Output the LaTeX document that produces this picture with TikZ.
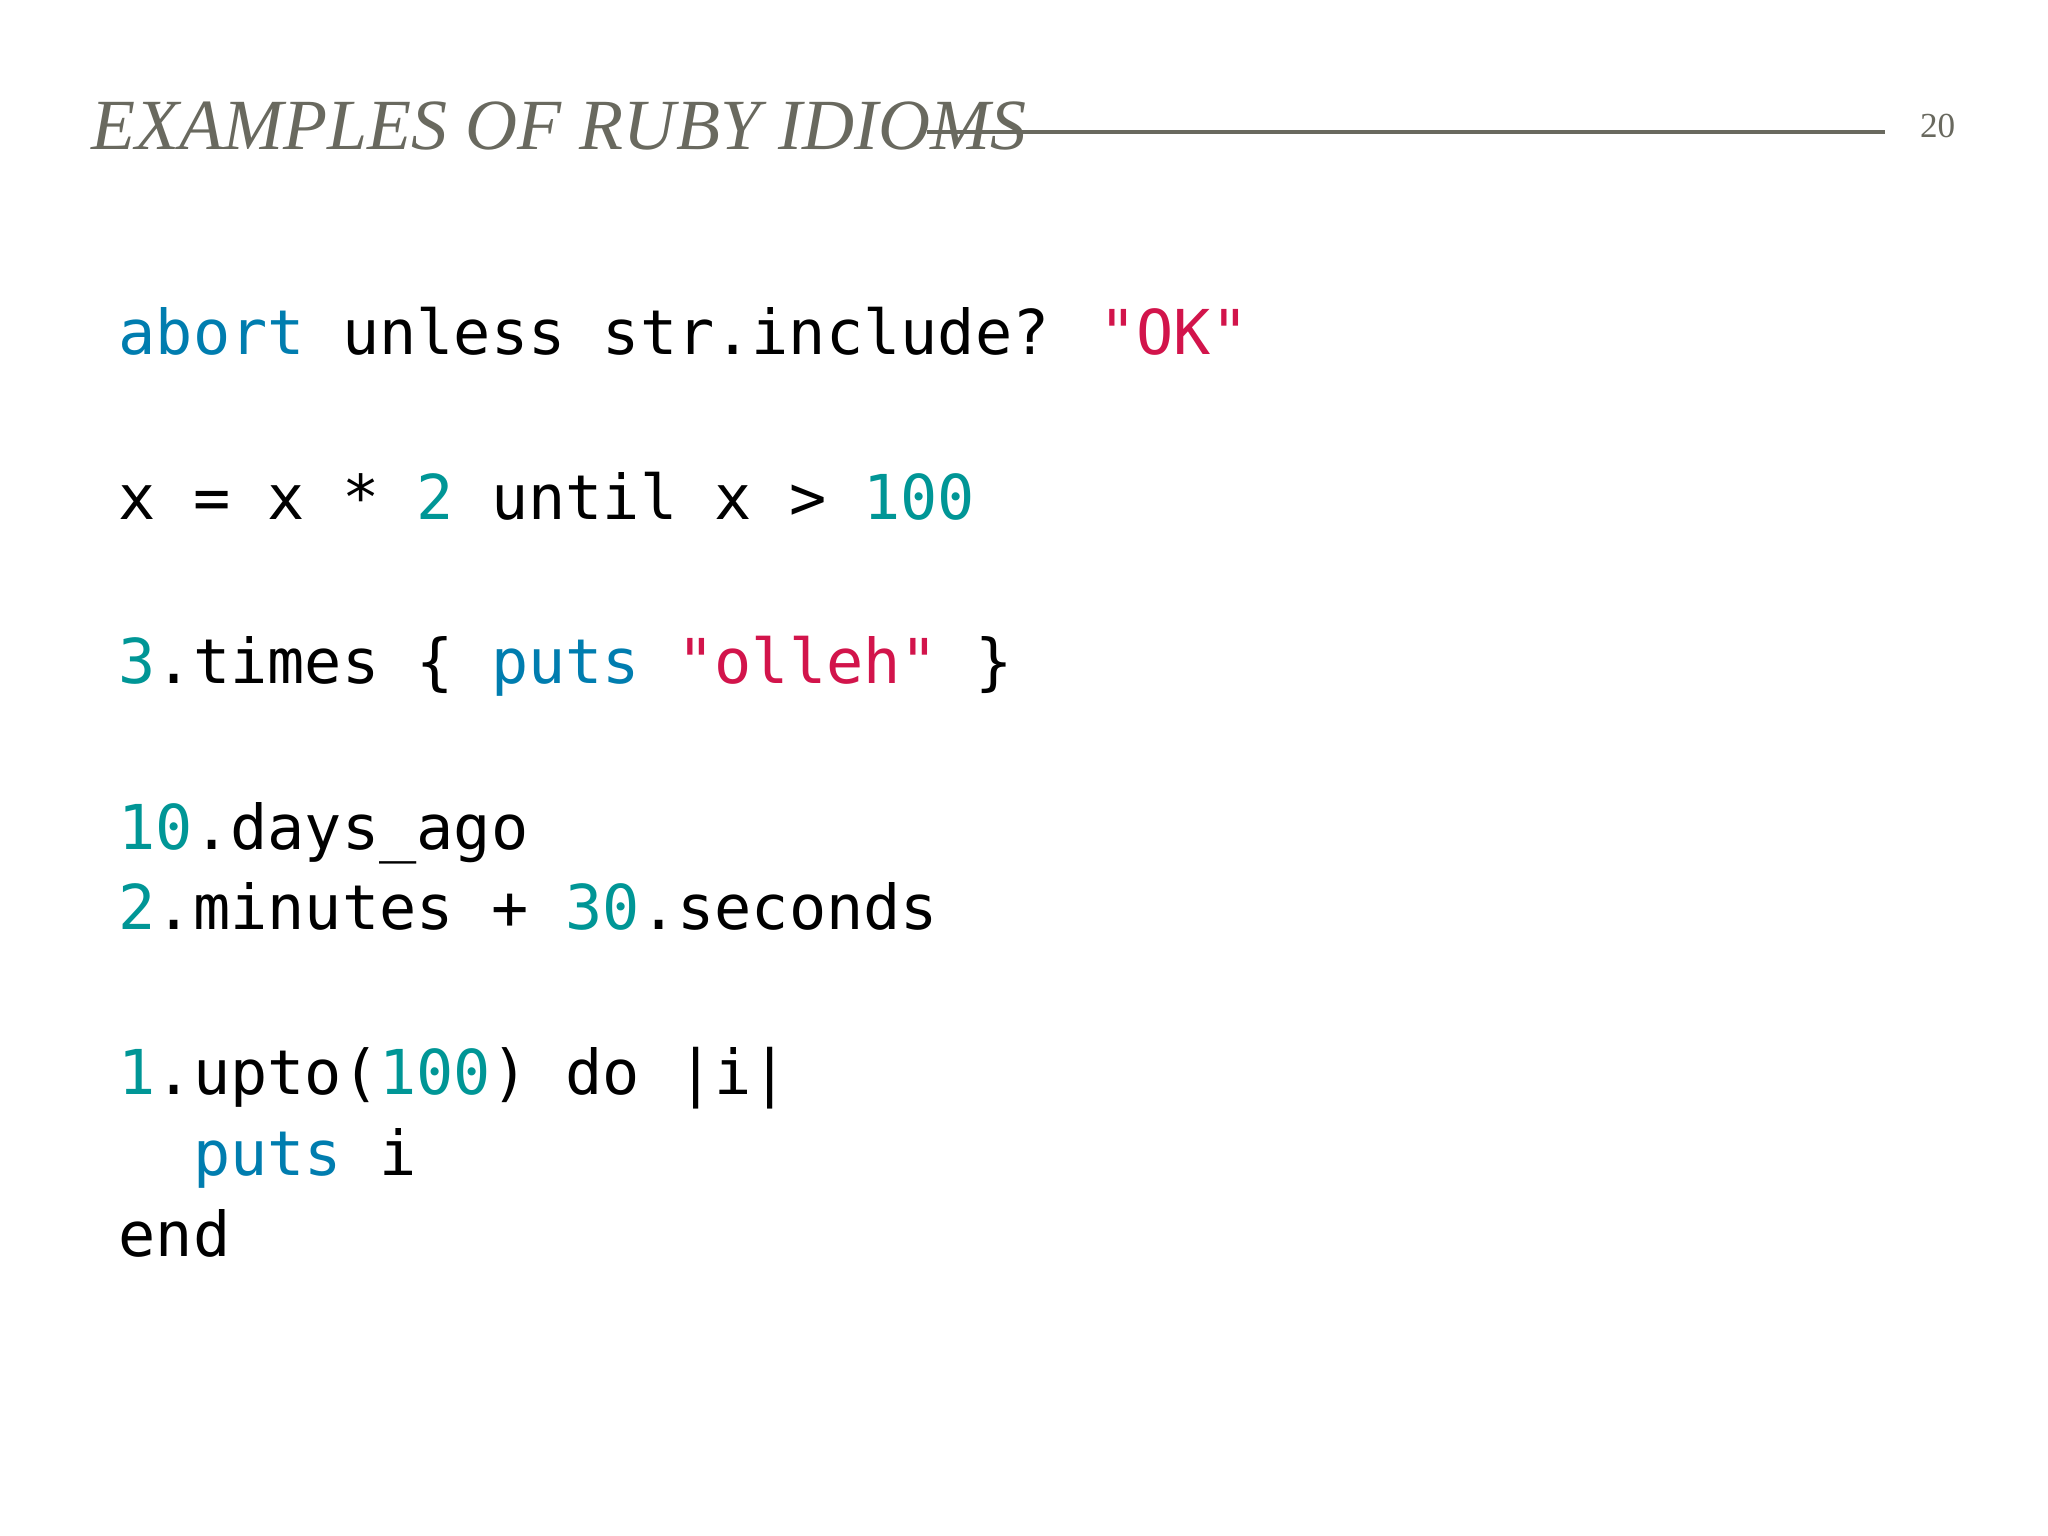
\documentclass[tikz,border=0pt]{standalone}
\usepackage{fontspec}
\setmainfont{Liberation Serif}
\newfontfamily\codefont{DejaVu Sans Mono}
\definecolor{kw}{RGB}{0,125,175}
\definecolor{str}{RGB}{210,20,75}
\definecolor{num}{RGB}{0,150,150}
\definecolor{ttl}{RGB}{105,105,95}
\begin{document}
\begin{tikzpicture}[
  code/.style={anchor=base west,inner sep=0pt,font=\codefont\fontsize{17.6}{20}\selectfont,text=black}]
\useasboundingbox[fill=white] (0,0) rectangle (20.48,-15.36);
\node[anchor=base west,inner sep=0pt,text=ttl,font=\itshape\fontsize{20.5}{24}\selectfont] (title) at (0.91,-1.50) {EXAMPLES OF RUBY IDIOMS};
\coordinate (l1) at (9.27,-1.32);
\coordinate (l2) at (18.85,-1.32);
\draw[ttl,line width=1pt] (l1) -- (l2);
\node[anchor=base east,inner sep=0pt,text=ttl,font=\fontsize{10}{12}\selectfont] (pg) at (19.56,-1.38) {20};
\node[code] (c1) at (1.18,-3.55) {\textcolor{kw}{abort} unless str.include? \textcolor{str}{"OK"}};
\node[code] (c2) at (1.18,-5.20) {x = x * \textcolor{num}{2} until x > \textcolor{num}{100}};
\node[code] (c3) at (1.18,-6.84) {\textcolor{num}{3}.times \{ \textcolor{kw}{puts} \textcolor{str}{"olleh"} \}};
\node[code] (c4) at (1.18,-8.49) {\textcolor{num}{10}.days\_ago};
\node[code] (c5) at (1.18,-9.30) {\textcolor{num}{2}.minutes + \textcolor{num}{30}.seconds};
\node[code] (c6) at (1.18,-10.94) {\textcolor{num}{1}.upto(\textcolor{num}{100}) do |i|};
\node[code] (c7) at (1.18,-11.75) {\phantom{xx}\textcolor{kw}{puts} i};
\node[code] (c8) at (1.18,-12.56) {end};
\end{tikzpicture}
\end{document}
